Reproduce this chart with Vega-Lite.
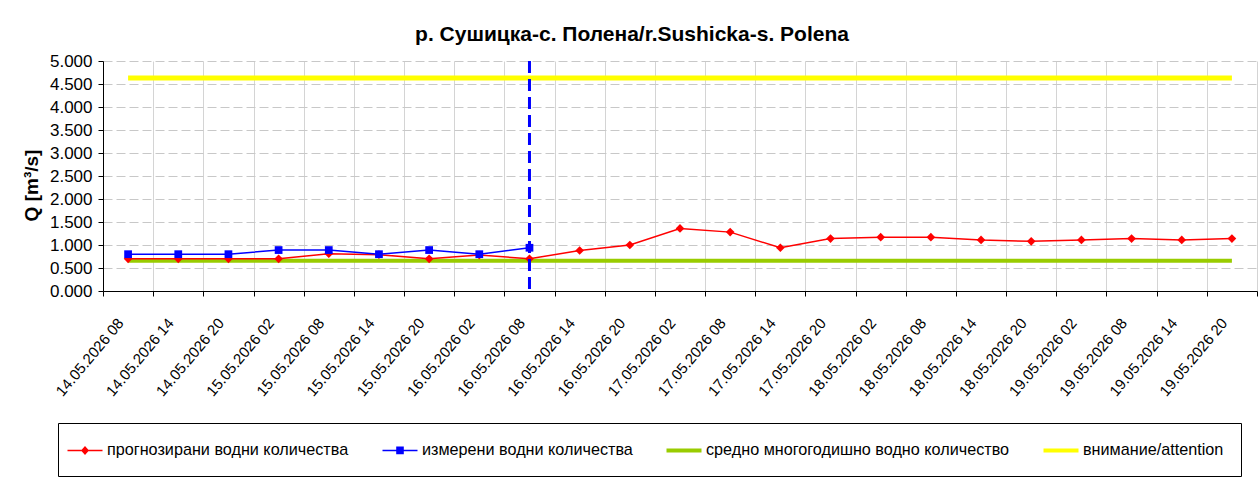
{
  "$schema": "https://vega.github.io/schema/vega-lite/v6.json",
  "autosize": {"type": "none"},
  "padding": {"left": 103, "top": 61, "right": 3, "bottom": 193},
  "width": 1154,
  "height": 230,
  "background": "white",
  "title": {
    "text": "р. Сушицка-с. Полена/r.Sushicka-s. Polena",
    "font": "Liberation Sans",
    "fontSize": 21,
    "fontWeight": "bold",
    "color": "black",
    "anchor": "middle",
    "dx": -48,
    "offset": 7
  },
  "config": {
    "font": "Liberation Sans",
    "view": {"stroke": null},
    "axis": {"labelFont": "Liberation Sans", "titleFont": "Liberation Sans", "labelColor": "black", "titleColor": "black"}
  },
  "datasets": {
    "series": [
      {"t": "14.05.2026 08", "s": "прогнозирани водни количества", "v": 0.70},
      {"t": "14.05.2026 14", "s": "прогнозирани водни количества", "v": 0.70},
      {"t": "14.05.2026 20", "s": "прогнозирани водни количества", "v": 0.70},
      {"t": "15.05.2026 02", "s": "прогнозирани водни количества", "v": 0.70},
      {"t": "15.05.2026 08", "s": "прогнозирани водни количества", "v": 0.81},
      {"t": "15.05.2026 14", "s": "прогнозирани водни количества", "v": 0.79},
      {"t": "15.05.2026 20", "s": "прогнозирани водни количества", "v": 0.70},
      {"t": "16.05.2026 02", "s": "прогнозирани водни количества", "v": 0.78},
      {"t": "16.05.2026 08", "s": "прогнозирани водни количества", "v": 0.70},
      {"t": "16.05.2026 14", "s": "прогнозирани водни количества", "v": 0.88},
      {"t": "16.05.2026 20", "s": "прогнозирани водни количества", "v": 1.00},
      {"t": "17.05.2026 02", "s": "прогнозирани водни количества", "v": 1.36},
      {"t": "17.05.2026 08", "s": "прогнозирани водни количества", "v": 1.28},
      {"t": "17.05.2026 14", "s": "прогнозирани водни количества", "v": 0.94},
      {"t": "17.05.2026 20", "s": "прогнозирани водни количества", "v": 1.14},
      {"t": "18.05.2026 02", "s": "прогнозирани водни количества", "v": 1.17},
      {"t": "18.05.2026 08", "s": "прогнозирани водни количества", "v": 1.17},
      {"t": "18.05.2026 14", "s": "прогнозирани водни количества", "v": 1.11},
      {"t": "18.05.2026 20", "s": "прогнозирани водни количества", "v": 1.08},
      {"t": "19.05.2026 02", "s": "прогнозирани водни количества", "v": 1.11},
      {"t": "19.05.2026 08", "s": "прогнозирани водни количества", "v": 1.14},
      {"t": "19.05.2026 14", "s": "прогнозирани водни количества", "v": 1.11},
      {"t": "19.05.2026 20", "s": "прогнозирани водни количества", "v": 1.14},
      {"t": "14.05.2026 08", "s": "измерени водни количества", "v": 0.80},
      {"t": "14.05.2026 14", "s": "измерени водни количества", "v": 0.80},
      {"t": "14.05.2026 20", "s": "измерени водни количества", "v": 0.80},
      {"t": "15.05.2026 02", "s": "измерени водни количества", "v": 0.89},
      {"t": "15.05.2026 08", "s": "измерени водни количества", "v": 0.89},
      {"t": "15.05.2026 14", "s": "измерени водни количества", "v": 0.80},
      {"t": "15.05.2026 20", "s": "измерени водни количества", "v": 0.89},
      {"t": "16.05.2026 02", "s": "измерени водни количества", "v": 0.80},
      {"t": "16.05.2026 08", "s": "измерени водни количества", "v": 0.94},
      {"t": "14.05.2026 08", "s": "средно многогодишно водно количество", "v": 0.66},
      {"t": "14.05.2026 14", "s": "средно многогодишно водно количество", "v": 0.66},
      {"t": "14.05.2026 20", "s": "средно многогодишно водно количество", "v": 0.66},
      {"t": "15.05.2026 02", "s": "средно многогодишно водно количество", "v": 0.66},
      {"t": "15.05.2026 08", "s": "средно многогодишно водно количество", "v": 0.66},
      {"t": "15.05.2026 14", "s": "средно многогодишно водно количество", "v": 0.66},
      {"t": "15.05.2026 20", "s": "средно многогодишно водно количество", "v": 0.66},
      {"t": "16.05.2026 02", "s": "средно многогодишно водно количество", "v": 0.66},
      {"t": "16.05.2026 08", "s": "средно многогодишно водно количество", "v": 0.66},
      {"t": "16.05.2026 14", "s": "средно многогодишно водно количество", "v": 0.66},
      {"t": "16.05.2026 20", "s": "средно многогодишно водно количество", "v": 0.66},
      {"t": "17.05.2026 02", "s": "средно многогодишно водно количество", "v": 0.66},
      {"t": "17.05.2026 08", "s": "средно многогодишно водно количество", "v": 0.66},
      {"t": "17.05.2026 14", "s": "средно многогодишно водно количество", "v": 0.66},
      {"t": "17.05.2026 20", "s": "средно многогодишно водно количество", "v": 0.66},
      {"t": "18.05.2026 02", "s": "средно многогодишно водно количество", "v": 0.66},
      {"t": "18.05.2026 08", "s": "средно многогодишно водно количество", "v": 0.66},
      {"t": "18.05.2026 14", "s": "средно многогодишно водно количество", "v": 0.66},
      {"t": "18.05.2026 20", "s": "средно многогодишно водно количество", "v": 0.66},
      {"t": "19.05.2026 02", "s": "средно многогодишно водно количество", "v": 0.66},
      {"t": "19.05.2026 08", "s": "средно многогодишно водно количество", "v": 0.66},
      {"t": "19.05.2026 14", "s": "средно многогодишно водно количество", "v": 0.66},
      {"t": "19.05.2026 20", "s": "средно многогодишно водно количество", "v": 0.66},
      {"t": "14.05.2026 08", "s": "внимание/attention", "v": 4.63},
      {"t": "14.05.2026 14", "s": "внимание/attention", "v": 4.63},
      {"t": "14.05.2026 20", "s": "внимание/attention", "v": 4.63},
      {"t": "15.05.2026 02", "s": "внимание/attention", "v": 4.63},
      {"t": "15.05.2026 08", "s": "внимание/attention", "v": 4.63},
      {"t": "15.05.2026 14", "s": "внимание/attention", "v": 4.63},
      {"t": "15.05.2026 20", "s": "внимание/attention", "v": 4.63},
      {"t": "16.05.2026 02", "s": "внимание/attention", "v": 4.63},
      {"t": "16.05.2026 08", "s": "внимание/attention", "v": 4.63},
      {"t": "16.05.2026 14", "s": "внимание/attention", "v": 4.63},
      {"t": "16.05.2026 20", "s": "внимание/attention", "v": 4.63},
      {"t": "17.05.2026 02", "s": "внимание/attention", "v": 4.63},
      {"t": "17.05.2026 08", "s": "внимание/attention", "v": 4.63},
      {"t": "17.05.2026 14", "s": "внимание/attention", "v": 4.63},
      {"t": "17.05.2026 20", "s": "внимание/attention", "v": 4.63},
      {"t": "18.05.2026 02", "s": "внимание/attention", "v": 4.63},
      {"t": "18.05.2026 08", "s": "внимание/attention", "v": 4.63},
      {"t": "18.05.2026 14", "s": "внимание/attention", "v": 4.63},
      {"t": "18.05.2026 20", "s": "внимание/attention", "v": 4.63},
      {"t": "19.05.2026 02", "s": "внимание/attention", "v": 4.63},
      {"t": "19.05.2026 08", "s": "внимание/attention", "v": 4.63},
      {"t": "19.05.2026 14", "s": "внимание/attention", "v": 4.63},
      {"t": "19.05.2026 20", "s": "внимание/attention", "v": 4.63}
    ],
    "marker": [{"t": "16.05.2026 08"}]
  },
  "data": {"name": "series"},
  "encoding": {
    "x": {
      "field": "t",
      "type": "nominal",
      "bandPosition": 0.5,
      "scale": {"type": "band", "paddingInner": 0, "paddingOuter": 0,
        "domain": ["14.05.2026 08","14.05.2026 14","14.05.2026 20","15.05.2026 02","15.05.2026 08","15.05.2026 14","15.05.2026 20","16.05.2026 02","16.05.2026 08","16.05.2026 14","16.05.2026 20","17.05.2026 02","17.05.2026 08","17.05.2026 14","17.05.2026 20","18.05.2026 02","18.05.2026 08","18.05.2026 14","18.05.2026 20","19.05.2026 02","19.05.2026 08","19.05.2026 14","19.05.2026 20"]},
      "axis": {
        "title": null,
        "tickBand": "extent",
        "grid": true,
        "gridColor": "#d4d4d4",
        "gridWidth": 1,
        "domainColor": "black",
        "domainWidth": 1,
        "tickColor": "black",
        "tickSize": 5,
        "labelAngle": -50,
        "labelAlign": "right",
        "labelBaseline": "middle",
        "labelFontSize": 15,
        "labelPadding": 24,
        "labelOffset": -8
      }
    },
    "y": {
      "field": "v",
      "type": "quantitative",
      "scale": {"domain": [0, 5], "nice": false, "zero": true},
      "axis": {
        "title": "Q [m³/s]",
        "titleFontSize": 19,
        "titleFontWeight": "bold",
        "titlePadding": 8,
        "titleY": 124,
        "values": [0, 0.5, 1, 1.5, 2, 2.5, 3, 3.5, 4, 4.5, 5],
        "format": ".3f",
        "labelFontSize": 17,
        "labelPadding": 6,
        "grid": true,
        "gridColor": "#c8c8c8",
        "gridDash": [9, 4],
        "domainColor": "black",
        "tickColor": "black",
        "tickSize": 5
      }
    }
  },
  "layer": [
    {
      "transform": [{"filter": {"field": "s", "equal": "средно многогодишно водно количество"}}],
      "mark": {"type": "line", "strokeWidth": 4, "color": "#99CC00"}
    },
    {
      "transform": [{"filter": {"field": "s", "equal": "внимание/attention"}}],
      "mark": {"type": "line", "strokeWidth": 5, "color": "#FFFF00"}
    },
    {
      "transform": [{"filter": {"field": "s", "equal": "прогнозирани водни количества"}}],
      "mark": {"type": "line", "strokeWidth": 1.5, "color": "#FF0000"}
    },
    {
      "transform": [{"filter": {"field": "s", "equal": "измерени водни количества"}}],
      "mark": {"type": "line", "strokeWidth": 1.5, "color": "#0000FF"}
    },
    {
      "transform": [{"filter": {"field": "s", "equal": "прогнозирани водни количества"}}],
      "mark": {"type": "point", "shape": "diamond", "filled": true, "size": 75, "opacity": 1, "color": "#FF0000"}
    },
    {
      "transform": [{"filter": {"field": "s", "equal": "измерени водни количества"}}],
      "mark": {"type": "point", "shape": "square", "filled": true, "size": 60, "opacity": 1, "color": "#0000FF"}
    },
    {
      "data": {"name": "marker"},
      "mark": {"type": "rule", "color": "#0000FF", "strokeWidth": 3, "strokeDash": [12, 6]},
      "encoding": {"x": {"field": "t", "type": "nominal", "bandPosition": 0.5}, "y": null}
    },
    {
      "mark": {"type": "point", "filled": true, "opacity": 0},
      "encoding": {
        "color": {
          "field": "s",
          "type": "nominal",
          "scale": {
            "domain": ["прогнозирани водни количества", "измерени водни количества", "средно многогодишно водно количество", "внимание/attention"],
            "range": ["#FF0000", "#0000FF", "#99CC00", "#FFFF00"]
          },
          "legend": {
            "title": null,
            "orient": "none",
            "legendX": -45,
            "legendY": 362,
            "direction": "horizontal",
            "strokeColor": "black",
            "padding": 17,
            "columnPadding": 33,
            "symbolSize": 400,
            "symbolStrokeWidth": 0,
            "symbolOpacity": 1,
            "labelOffset": 12,
            "labelFontSize": 16.2,
            "labelFont": "Liberation Sans",
            "labelColor": "black",
            "labelLimit": 500
          }
        },
        "shape": {
          "field": "s",
          "type": "nominal",
          "scale": {
            "domain": ["прогнозирани водни количества", "измерени водни количества", "средно многогодишно водно количество", "внимание/attention"],
            "range": [
              "M-1.75,-0.075H1.75V0.075H-1.75Z M0,-0.45L0.4,0L0,0.45L-0.4,0Z",
              "M-1.75,-0.075H1.75V0.075H-1.75Z M-0.38,-0.38H0.38V0.38H-0.38Z",
              "M-1.75,-0.2H1.75V0.2H-1.75Z",
              "M-1.75,-0.2H1.75V0.2H-1.75Z"
            ]
          },
          "legend": {
            "title": null,
            "orient": "none",
            "legendX": -45,
            "legendY": 362,
            "direction": "horizontal",
            "strokeColor": "black",
            "padding": 17,
            "columnPadding": 33,
            "symbolSize": 400,
            "symbolStrokeWidth": 0,
            "symbolOpacity": 1,
            "labelOffset": 12,
            "labelFontSize": 16.2,
            "labelFont": "Liberation Sans",
            "labelColor": "black",
            "labelLimit": 500
          }
        }
      }
    }
  ]
}
